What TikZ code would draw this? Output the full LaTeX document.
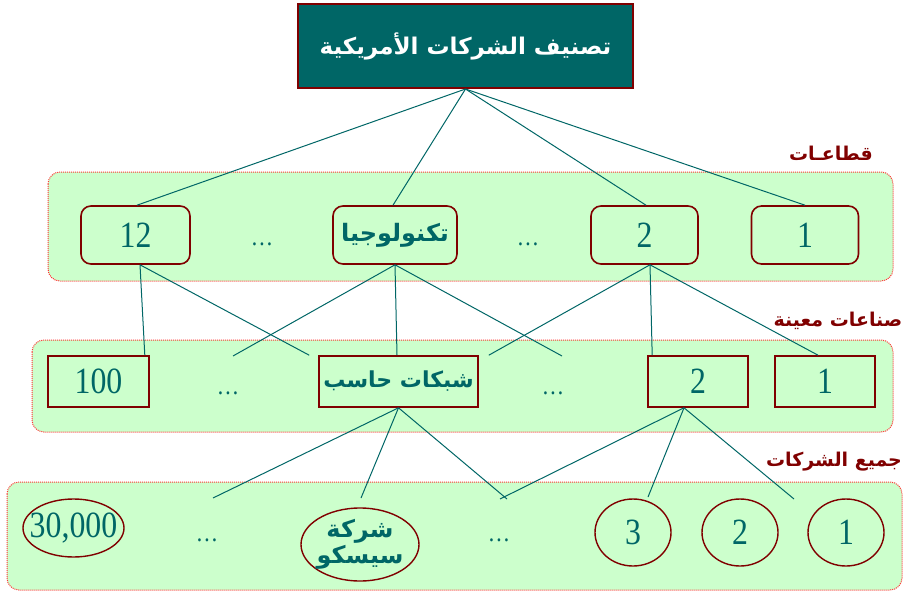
\documentclass[tikz,border=0pt]{standalone}
\usepackage{fontspec}
\setmainfont{Liberation Serif}
\newfontfamily\arabicfont[Script=Arabic]{DejaVu Sans}
\newfontfamily\numfont[FakeStretch=0.86]{Liberation Serif}
\TeXXeTstate=1
\usetikzlibrary{calc,shapes.geometric}
\definecolor{teal}{HTML}{006666}
\definecolor{maroon}{HTML}{800000}
\definecolor{pale}{HTML}{CCFFCC}
\definecolor{bandred}{HTML}{FF3333}
\tikzset{
  band/.style={fill=pale, draw=bandred, densely dotted, line width=1pt, rounded corners=12pt},
  titlebox/.style={fill=teal, draw=maroon, line width=2pt, inner sep=0pt, minimum width=335pt, minimum height=84pt, text=white, font=\arabicfont\bfseries\fontsize{23}{28}\selectfont},
  secbox/.style={fill=pale, draw=maroon, line width=1.6pt, rounded corners=10pt, inner sep=0pt, minimum height=58pt, text=teal},
  indbox/.style={fill=pale, draw=maroon, line width=1.6pt, inner sep=0pt, minimum height=51pt, text=teal},
  firm/.style={ellipse, fill=pale, draw=maroon, line width=1.4pt, inner sep=0pt, text=teal},
  num/.style={font=\numfont\fontsize{37}{40}\selectfont},
  arb/.style={font=\arabicfont\bfseries\fontsize{22}{26}\selectfont},
  dots/.style={text=teal, font=\numfont\fontsize{26}{28}\selectfont, anchor=base},
  lvl/.style={text=maroon, font=\arabicfont\bfseries\fontsize{19}{22}\selectfont},
  link/.style={draw=teal, line width=1pt}
}
\begin{document}
\begin{tikzpicture}[x=1pt,y=-1pt]
\useasboundingbox (0,0) rectangle (904,591);
% bands
\draw[band] (48,172) rectangle (893,281);
\draw[band] (32,340) rectangle (893,432);
\draw[band] (7,482) rectangle (902,590);
% level labels
\node[lvl] (l1) at (831,153) {\beginR قطاعـات\endR};
\node[lvl] (l2) at (838,321) {\beginR صناعات معينة\endR};
\node[lvl] (l3) at (834,462) {\beginR جميع الشركات\endR};
% top
\node[titlebox] (top) at (465.5,46) {\beginR تصنيف الشركات الأمريكية\endR};
% sectors
\node[secbox, num, minimum width=109pt] (b12) at (135.5,235) {12};
\node[secbox, arb, font=\arabicfont\bfseries\fontsize{24}{28}\selectfont, minimum width=124pt] (btech) at (395,235) {\beginR تكنولوجيا\endR};
\node[secbox, num, minimum width=107pt] (b2) at (644.5,235) {2};
\node[secbox, num, minimum width=107pt] (b1) at (805,235) {1};
\node[dots] (d1a) at (262,245) {\dots};
\node[dots] (d1b) at (528,245) {\dots};
% industries
\node[indbox, num, minimum width=101pt] (c100) at (98.5,381.5) {100};
\node[indbox, arb, minimum width=159pt] (cnet) at (398.5,381.5) {\beginR شبكات حاسب\endR};
\node[indbox, num, minimum width=100pt] (c2) at (698,381.5) {2};
\node[indbox, num, minimum width=100pt] (c1) at (825,381.5) {1};
\node[dots] (d2a) at (228,394) {\dots};
\node[dots] (d2b) at (553,394) {\dots};
% firms
\node[firm, num, inner xsep=-10pt, inner ysep=-6pt, minimum width=101pt, minimum height=58pt] (f30) at (73.5,528) {30,000};
\node[firm, arb, font=\arabicfont\bfseries\fontsize{24}{28}\selectfont, inner xsep=-4pt, inner ysep=-6pt, minimum width=118pt, minimum height=73pt, align=center] (fcisco) at (360,544.5) {\beginR شركة\endR\\[-2pt]\beginR سيسكو\endR};
\node[firm, num, minimum width=76pt, minimum height=67pt] (f3) at (633,532.5) {3};
\node[firm, num, minimum width=76pt, minimum height=67pt] (f2) at (740,532.5) {2};
\node[firm, num, minimum width=76pt, minimum height=67pt] (f1) at (846,532.5) {1};
\node[dots] (d3a) at (207,541) {\dots};
\node[dots] (d3b) at (499,541) {\dots};
% free ends
\coordinate (e1) at (233,356);
\coordinate (e2) at (562,356);
\coordinate (g1) at (213,498);
\coordinate (g2) at (361,498);
\coordinate (g3) at (507,499);
\coordinate (g4) at (500,499);
\coordinate (g5) at (648,497);
\coordinate (g6) at (794,499);
% top links
\draw[link] (top.south) -- ($(b12.north)+(1.5,0)$);
\draw[link] (top.south) -- ($(btech.north)+(-2,0)$);
\draw[link] (top.south) -- ($(b2.north)+(1.5,0)$);
\draw[link] (top.south) -- (b1.north);
% sectors to industries
\draw[link] ($(b12.south)+(4.5,0)$) -- ($(c100.north east)+(-5,0)$);
\draw[link] ($(b12.south)+(4.5,0)$) -- ($(cnet.north west)+(-9,0)$);
\draw[link] (btech.south) -- (e1);
\draw[link] (btech.south) -- ($(cnet.north)+(-1.5,0)$);
\draw[link] (btech.south) -- (e2);
\draw[link] ($(b2.south)+(5.5,0)$) -- ($(cnet.north east)+(10,0)$);
\draw[link] ($(b2.south)+(5.5,0)$) -- ($(c2.north west)+(5,0)$);
\draw[link] ($(b2.south)+(5.5,0)$) -- ($(c1.north)+(-7,0)$);
% industries to firms
\draw[link] (cnet.south) -- (g1);
\draw[link] (cnet.south) -- (g2);
\draw[link] (cnet.south) -- (g3);
\draw[link] ($(c2.south)+(-14,0)$) -- (g4);
\draw[link] ($(c2.south)+(-14,0)$) -- (g5);
\draw[link] ($(c2.south)+(-14,0)$) -- (g6);
\end{tikzpicture}
\end{document}
